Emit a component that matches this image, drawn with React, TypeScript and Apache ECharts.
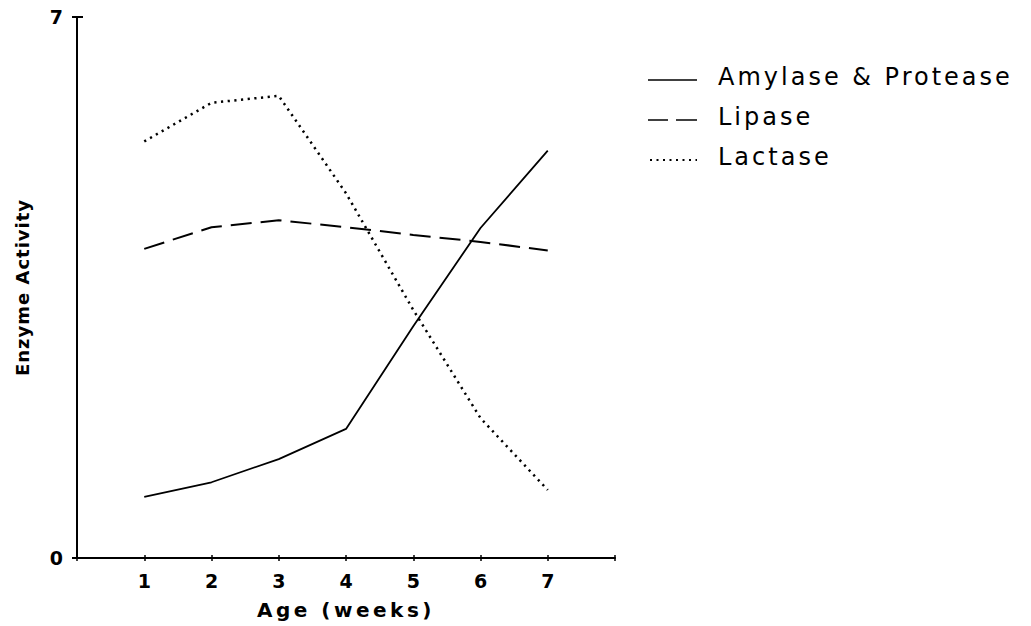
import React, { useEffect, useRef } from "react";
import * as echarts from "echarts";

const weeks = [1, 2, 3, 4, 5, 6, 7];
const xTickLabels = ["", "1", "2", "3", "4", "5", "6", "7", ""];
const yTickLabels = ["0", "7"];
const seriesNames = ["Amylase & Protease", "Lipase", "Lactase"];
const amylase = [0.79, 0.98, 1.28, 1.67, 3.0, 4.27, 5.27];
const lipase = [4.0, 4.28, 4.37, 4.28, 4.18, 4.09, 3.98];
const lactase = [5.39, 5.89, 5.98, 4.72, 3.21, 1.81, 0.88];
const xTitle = "Age (weeks)";
const yTitle = "Enzyme Activity";

const FONT = '"DejaVu Sans", sans-serif';

const spacing: Record<string, number> = {
  "Amylase & Protease": 3,
  Lipase: 3,
  Lactase: 3,
  "Age (weeks)": 3.5,
  "Enzyme Activity": 1,
};

export default function App() {
  const ref = useRef<HTMLDivElement>(null);
  useEffect(() => {
    const el = ref.current!;
    const chart = echarts.init(el, null, { renderer: "svg" });
    const pts = (a: number[]) => weeks.map((w, i) => [w, a[i]]);
    const black = "#000";
    const rowY = [77, 117, 157];
    const textX = 718;
    chart.setOption({
      animation: false,
      backgroundColor: "#fff",
      grid: { left: 77, right: 416, top: 17, bottom: 68, containLabel: false },
      xAxis: [
        {
          type: "value",
          min: 0,
          max: 8,
          interval: 1,
          axisLine: { show: true, lineStyle: { color: black, width: 2 } },
          axisTick: { show: true, length: 3, lineStyle: { color: black, width: 1.5 } },
          axisLabel: {
            formatter: (v: number) => xTickLabels[Math.round(v)] ?? "",
            margin: 13,
            color: black,
            fontFamily: FONT,
            fontWeight: "bold",
            fontSize: 19,
          },
          splitLine: { show: false },
          name: xTitle,
          nameLocation: "middle",
          nameGap: 42,
          nameTextStyle: { color: black, fontFamily: FONT, fontWeight: "bold", fontSize: 20 },
        },
        {
          type: "value",
          min: 0,
          max: 8,
          interval: 1,
          position: "bottom",
          axisLine: { show: false },
          axisTick: { show: true, inside: true, length: 3, lineStyle: { color: black, width: 1.5 } },
          axisLabel: { show: false },
          splitLine: { show: false },
        },
      ],
      yAxis: [
        {
          type: "value",
          min: 0,
          max: 7,
          interval: 7,
          axisLine: { show: true, lineStyle: { color: black, width: 2 } },
          axisTick: { show: true, length: 5, lineStyle: { color: black, width: 2 } },
          axisLabel: {
            formatter: (v: number) => (v === 0 ? yTickLabels[0] : v === 7 ? yTickLabels[1] : ""),
            margin: 14,
            color: black,
            fontFamily: FONT,
            fontWeight: "bold",
            fontSize: 19,
          },
          splitLine: { show: false },
          name: yTitle,
          nameLocation: "middle",
          nameGap: 46,
          nameRotate: 90,
          nameTextStyle: { color: black, fontFamily: FONT, fontWeight: "bold", fontSize: 18 },
        },
        {
          type: "value",
          min: 0,
          max: 7,
          interval: 7,
          position: "left",
          axisLine: { show: false },
          axisTick: { show: true, inside: true, length: 6, lineStyle: { color: black, width: 2 } },
          axisLabel: { show: false },
          splitLine: { show: false },
        },
      ],
      series: [
        {
          name: seriesNames[0],
          type: "line",
          data: pts(amylase),
          symbol: "none",
          lineStyle: { color: black, width: 1.8, type: "solid" },
        },
        {
          name: seriesNames[1],
          type: "line",
          data: pts(lipase),
          symbol: "none",
          lineStyle: { color: black, width: 2, type: [21, 9] },
        },
        {
          name: seriesNames[2],
          type: "line",
          data: pts(lactase),
          symbol: "none",
          lineStyle: { color: black, width: 2.5, type: [2.2, 4.5] },
        },
      ],
      graphic: [
        {
          type: "line",
          shape: { x1: 648, y1: rowY[0] + 3, x2: 697, y2: rowY[0] + 3 },
          style: { stroke: black, lineWidth: 1.5 },
        },
        {
          type: "line",
          shape: { x1: 648, y1: rowY[1] + 3, x2: 668, y2: rowY[1] + 3 },
          style: { stroke: black, lineWidth: 1.5 },
        },
        {
          type: "line",
          shape: { x1: 676, y1: rowY[1] + 3, x2: 697, y2: rowY[1] + 3 },
          style: { stroke: black, lineWidth: 1.5 },
        },
        {
          type: "line",
          shape: { x1: 650, y1: rowY[2] + 3, x2: 697, y2: rowY[2] + 3 },
          style: { stroke: black, lineWidth: 2.2, lineDash: [2, 4.5] },
        },
        ...seriesNames.map((n, i) => ({
          type: "text",
          x: textX,
          y: rowY[i],
          style: {
            text: n,
            fill: black,
            font: `normal 24px ${FONT}`,
            textAlign: "left",
            textVerticalAlign: "middle",
          },
        })),
      ],
    });
    const applySpacing = () => {
      el.querySelectorAll("text").forEach((t) => {
        const s = t.textContent || "";
        if (spacing[s] != null) t.setAttribute("letter-spacing", String(spacing[s]));
      });
    };
    applySpacing();
    chart.on("finished", applySpacing);
    return () => {
      chart.dispose();
    };
  }, []);
  return (
    <div
      ref={ref}
      style={{ position: "fixed", left: 0, top: 0, width: 1031, height: 626, background: "#fff" }}
    />
  );
}
